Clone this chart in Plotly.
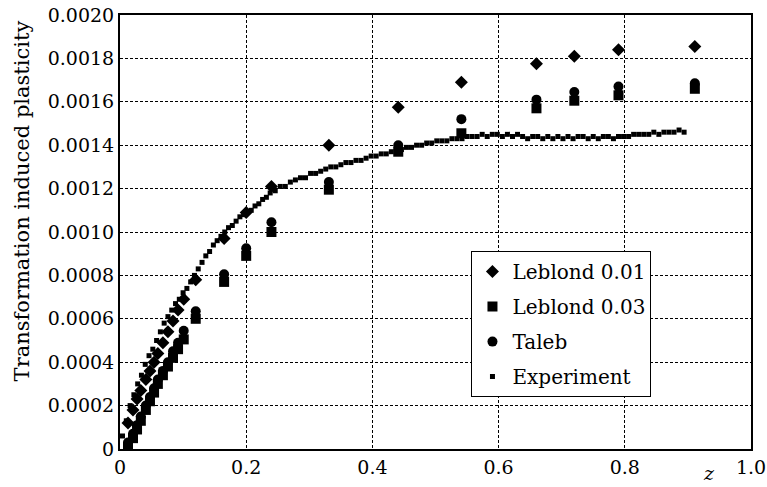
import plotly.graph_objects as go

# ---- data ----
model_z = [0.0127, 0.0206, 0.027, 0.033, 0.041, 0.0475, 0.054, 0.060, 0.068, 0.076,
           0.084, 0.092, 0.101, 0.120, 0.165, 0.200, 0.240, 0.331, 0.441, 0.541,
           0.660, 0.720, 0.790, 0.911]

leblond_001 = [0.00012, 0.00018, 0.00023, 0.00027, 0.00032, 0.00036, 0.00040, 0.00044,
               0.00049, 0.00054, 0.00059, 0.00064, 0.00069, 0.00078, 0.00097, 0.00109,
               0.00121, 0.00140, 0.001575, 0.00169, 0.001775, 0.00181, 0.00184, 0.001855]

leblond_003 = [0.00001, 0.00005, 0.00009, 0.00013, 0.00018, 0.00022, 0.00026, 0.00030,
               0.00034, 0.00038, 0.00042, 0.00046, 0.000505, 0.00060, 0.00077, 0.00089,
               0.00100, 0.001195, 0.00137, 0.001455, 0.00157, 0.001605, 0.00163, 0.00166]

taleb = [0.00003, 0.00007, 0.00011, 0.00015, 0.00020, 0.00024, 0.00028, 0.00032,
         0.00036, 0.00040, 0.00045, 0.00049, 0.000545, 0.000635, 0.000805, 0.000925,
         0.001045, 0.00123, 0.00140, 0.00152, 0.00161, 0.001645, 0.00167, 0.001685]

exp_z = [0.004, 0.010, 0.016, 0.022, 0.028, 0.034, 0.040, 0.046, 0.052, 0.058,
         0.064, 0.070, 0.076, 0.082, 0.088, 0.094, 0.100, 0.106, 0.112, 0.118,
         0.124, 0.130, 0.136, 0.142, 0.148, 0.154, 0.160, 0.166, 0.172, 0.178,
         0.184, 0.190, 0.196, 0.202, 0.208, 0.214, 0.220, 0.226, 0.232, 0.238,
         0.246, 0.254, 0.262, 0.270, 0.278, 0.286, 0.294, 0.302, 0.310, 0.318,
         0.326, 0.334, 0.342, 0.350, 0.358, 0.366, 0.374, 0.382, 0.390, 0.398,
         0.406, 0.414, 0.422, 0.430, 0.438, 0.446, 0.454, 0.462, 0.470, 0.478,
         0.486, 0.494, 0.502, 0.510, 0.518, 0.526, 0.534, 0.542, 0.550, 0.558,
         0.566, 0.574, 0.582, 0.590, 0.598, 0.606, 0.614, 0.622, 0.630, 0.638,
         0.646, 0.654, 0.662, 0.670, 0.678, 0.686, 0.694, 0.702, 0.710, 0.718,
         0.726, 0.734, 0.742, 0.750, 0.758, 0.766, 0.774, 0.782, 0.790, 0.798,
         0.806, 0.814, 0.822, 0.830, 0.838, 0.846, 0.854, 0.862, 0.870, 0.878,
         0.886, 0.894]

exp_val = [0.00006, 0.00013, 0.00020, 0.00025, 0.00030, 0.00034, 0.00039, 0.00043, 0.00046, 0.00050,
           0.00054, 0.00058, 0.00061, 0.00064, 0.00067, 0.00069, 0.00072, 0.00074, 0.00077, 0.00080,
           0.00083, 0.00086, 0.00089, 0.00091, 0.00094, 0.00096, 0.00098, 0.00100, 0.00102, 0.00103,
           0.00105, 0.00107, 0.00108, 0.00109, 0.00110, 0.00112, 0.00113, 0.00115, 0.00116, 0.00118,
           0.00119, 0.00121, 0.00121, 0.00123, 0.00124, 0.00125, 0.00125, 0.00127, 0.00127, 0.00128,
           0.00129, 0.00130, 0.00130, 0.00131, 0.00132, 0.00132, 0.00133, 0.00133, 0.00134, 0.00135,
           0.00135, 0.00136, 0.00136, 0.00137, 0.00138, 0.00138, 0.00139, 0.00139, 0.00140, 0.00140,
           0.00141, 0.00141, 0.00142, 0.00142, 0.00142, 0.00143, 0.00143, 0.00143, 0.00144, 0.00144,
           0.00144, 0.00145, 0.00144, 0.00145, 0.00145, 0.00144, 0.00145, 0.00144, 0.00145, 0.00144,
           0.00143, 0.00144, 0.00144, 0.00143, 0.00144, 0.00143, 0.00144, 0.00143, 0.00144, 0.00143,
           0.00144, 0.00144, 0.00143, 0.00144, 0.00143, 0.00144, 0.00144, 0.00143, 0.00144, 0.00144,
           0.00144, 0.00145, 0.00145, 0.00145, 0.00145, 0.00146, 0.00145, 0.00146, 0.00146, 0.00146,
           0.00147, 0.00146]

y_tick_vals = [0, 0.0002, 0.0004, 0.0006, 0.0008, 0.0010, 0.0012, 0.0014, 0.0016, 0.0018, 0.0020]
y_tick_text = ["0", "0.0002", "0.0004", "0.0006", "0.0008", "0.0010", "0.0012",
               "0.0014", "0.0016", "0.0018", "0.0020"]
x_tick_vals = [0, 0.2, 0.4, 0.6, 0.8, 1.0]
x_tick_text = ["0", "0.2", "0.4", "0.6", "0.8", "1.0"]

FONT = "DejaVu Serif"

fig = go.Figure()
fig.add_trace(go.Scatter(x=model_z, y=leblond_001, mode="markers", name="Leblond 0.01",
                         legendgroup="a", marker=dict(symbol="diamond", size=10, color="black")))
fig.add_trace(go.Scatter(x=model_z, y=leblond_003, mode="markers", name="Leblond 0.03",
                         legendgroup="b", marker=dict(symbol="square", size=10, color="black")))
fig.add_trace(go.Scatter(x=model_z, y=taleb, mode="markers", name="Taleb",
                         legendgroup="c", marker=dict(symbol="circle", size=10, color="black")))
fig.add_trace(go.Scatter(x=exp_z, y=exp_val, mode="markers", name="Experiment",
                         legendgroup="d", marker=dict(symbol="square", size=5, color="black")))

axis_common = dict(showline=True, linecolor="black", linewidth=2, mirror=True,
                   showgrid=True, gridcolor="black", gridwidth=1, griddash="3px,2px",
                   zeroline=False, ticks="", automargin=False,
                   tickfont=dict(family=FONT, size=19, color="black"))

fig.update_xaxes(range=[0, 1.0], tickvals=x_tick_vals, ticktext=x_tick_text, **axis_common)
fig.update_yaxes(range=[0, 0.0020], tickvals=y_tick_vals, ticktext=y_tick_text, **axis_common)

fig.add_annotation(text="Transformation induced plasticity", xref="paper", yref="paper",
                   x=-0.155, y=0.571, textangle=-90, showarrow=False,
                   font=dict(family=FONT, size=21, color="black"),
                   xanchor="center", yanchor="middle")

fig.add_annotation(text="<i>z</i>", xref="paper", yref="paper", x=0.933, y=-0.055,
                   showarrow=False, font=dict(family=FONT, size=19, color="black"),
                   xanchor="center", yanchor="middle")

fig.update_layout(
    width=767, height=487,
    margin=dict(l=120, r=16, t=15, b=38, autoexpand=False),
    paper_bgcolor="white", plot_bgcolor="white",
    font=dict(family=FONT, size=19, color="black"),
    legend=dict(x=0.557, y=0.456, xanchor="left", yanchor="top",
                bgcolor="white", bordercolor="black", borderwidth=1,
                font=dict(family=FONT, size=20, color="black"),
                itemsizing="trace", tracegroupgap=6),
    showlegend=True,
)

# remove the page's default body margin so the figure sits at the window's corner
fig.write_html("out.html", config={"displayModeBar": False},
               post_script="document.body.style.margin='0';")
